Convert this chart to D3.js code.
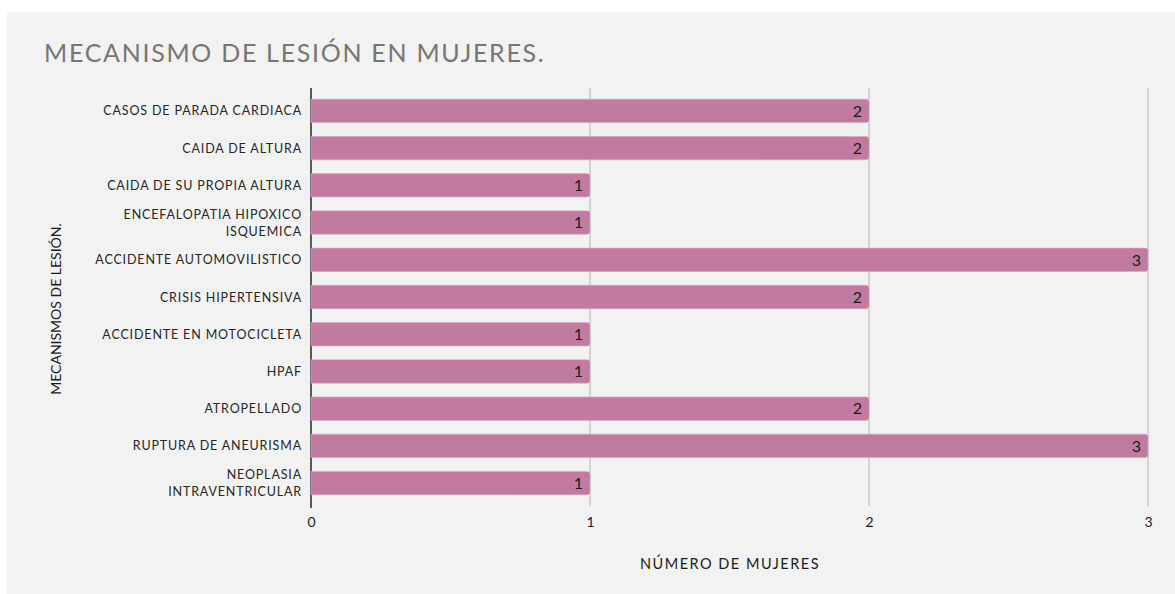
<!DOCTYPE html>
<html>
<head>
<meta charset="utf-8">
<script src="https://cdn.jsdelivr.net/npm/d3@7"></script>
<style>
  html, body { margin: 0; padding: 0; background: #ffffff; }
  svg { display: block; font-family: Lato, "Open Sans", sans-serif; }
</style>
</head>
<body>
<div id="chart"></div>
<script>
// categorías (de arriba a abajo) y número de mujeres
var categories = [
  "CASOS DE PARADA CARDIACA",
  "CAIDA DE ALTURA",
  "CAIDA DE SU PROPIA ALTURA",
  "ENCEFALOPATIA HIPOXICO ISQUEMICA",
  "ACCIDENTE AUTOMOVILISTICO",
  "CRISIS HIPERTENSIVA",
  "ACCIDENTE EN MOTOCICLETA",
  "HPAF",
  "ATROPELLADO",
  "RUPTURA DE ANEURISMA",
  "NEOPLASIA INTRAVENTRICULAR"
];
var values = [2, 2, 1, 1, 3, 2, 1, 1, 2, 3, 1];
// etiquetas en dos líneas
var labelLines = {
  "ENCEFALOPATIA HIPOXICO ISQUEMICA": ["ENCEFALOPATIA HIPOXICO", "ISQUEMICA"],
  "NEOPLASIA INTRAVENTRICULAR": ["NEOPLASIA", "INTRAVENTRICULAR"]
};
var xTicks = [0, 1, 2, 3];
var titleText = "MECANISMO DE LESIÓN EN MUJERES.";
var xTitle = "NÚMERO DE MUJERES";
var yTitle = "MECANISMOS DE LESIÓN.";

var W = 1175, H = 594;
var plotLeft = 311, plotRight = 1148, plotTop = 88, plotBottom = 506;

var svg = d3.select("#chart").append("svg")
    .attr("width", W)
    .attr("height", H);

// fondo del gráfico
svg.append("rect")
    .attr("x", 7).attr("y", 12)
    .attr("width", W - 7).attr("height", H - 12)
    .attr("fill", "#f2f2f2");

var x = d3.scaleLinear().domain([0, 3]).range([plotLeft, plotRight]);
var y = d3.scaleBand().domain(categories).range([plotTop, plotBottom])
    .paddingInner(0.37).paddingOuter(0.3);

// líneas de cuadrícula
svg.append("g").selectAll("line")
    .data(xTicks.filter(function (t) { return t > 0; }))
    .enter().append("line")
    .attr("x1", function (t) { return x(t); })
    .attr("x2", function (t) { return x(t); })
    .attr("y1", plotTop)
    .attr("y2", plotBottom)
    .attr("stroke", "#c9c9c9")
    .attr("stroke-width", 1.5);

// eje vertical
svg.append("line")
    .attr("x1", x(0)).attr("x2", x(0))
    .attr("y1", plotTop).attr("y2", plotBottom + 2)
    .attr("stroke", "#262626")
    .attr("stroke-width", 1.5);

// barras con esquinas derechas redondeadas
var r = 3;
svg.append("g").selectAll("path")
    .data(categories)
    .enter().append("path")
    .attr("d", function (c, i) {
        var x0 = x(0), x1 = x(values[i]), y0 = y(c), h = y.bandwidth();
        return "M" + x0 + "," + y0 + "H" + (x1 - r) + "Q" + x1 + "," + y0 + " " + x1 + "," + (y0 + r) +
            "V" + (y0 + h - r) + "Q" + x1 + "," + (y0 + h) + " " + (x1 - r) + "," + (y0 + h) +
            "H" + x0 + "Z";
    })
    .attr("fill", "#c27ba0")
    .attr("stroke", "#d9a9c2")
    .attr("stroke-width", 0.6);

// valores dentro de las barras
svg.append("g").selectAll("text")
    .data(categories)
    .enter().append("text")
    .attr("x", function (c, i) { return x(values[i]) - 7; })
    .attr("y", function (c) { return y(c) + y.bandwidth() / 2; })
    .attr("dy", "0.36em")
    .attr("text-anchor", "end")
    .attr("font-size", "16px")
    .attr("fill", "#1a1a1a")
    .text(function (c, i) { return values[i]; });

// etiquetas de categorías
var catG = svg.append("g").selectAll("text")
    .data(categories)
    .enter().append("text")
    .attr("text-anchor", "end")
    .attr("font-size", "12.5px")
    .attr("letter-spacing", "0.85px")
    .attr("fill", "#262626");
catG.each(function (c) {
    var lines = labelLines[c] || [c];
    var cy = y(c) + y.bandwidth() / 2;
    var el = d3.select(this);
    lines.forEach(function (ln, k) {
        el.append("tspan")
            .attr("x", 302)
            .attr("y", cy + (k - (lines.length - 1) / 2) * 17)
            .attr("dy", "0.36em")
            .text(ln);
    });
});

// eje x: etiquetas
var xAxis = d3.axisBottom(x).tickValues(xTicks).tickSize(0).tickPadding(10)
    .tickFormat(d3.format("d"));
var gx = svg.append("g")
    .attr("transform", "translate(0," + (plotBottom + 1) + ")")
    .call(xAxis);
gx.select(".domain").remove();
gx.selectAll("text")
    .attr("font-family", "Lato, sans-serif")
    .attr("font-size", "14px")
    .attr("fill", "#1a1a1a");

// títulos
svg.append("text")
    .attr("x", 44).attr("y", 62)
    .attr("font-size", "25px")
    .attr("font-weight", 400)
    .attr("letter-spacing", "1.7px")
    .attr("fill", "#767676")
    .text(titleText);

svg.append("text")
    .attr("x", 730).attr("y", 569)
    .attr("text-anchor", "middle")
    .attr("font-size", "14.5px")
    .attr("letter-spacing", "1.5px")
    .attr("fill", "#1a1a1a")
    .text(xTitle);

svg.append("text")
    .attr("transform", "translate(61,309) rotate(-90)")
    .attr("text-anchor", "middle")
    .attr("font-size", "14px")
    .attr("fill", "#1a1a1a")
    .text(yTitle);
</script>
</body>
</html>
